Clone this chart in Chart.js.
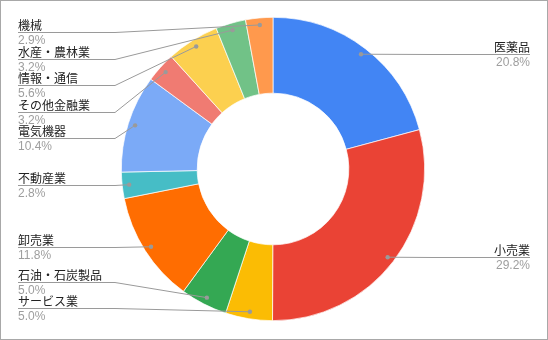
<!DOCTYPE html>
<html>
<head>
<meta charset="utf-8">
<script src="https://cdn.jsdelivr.net/npm/chart.js@4"></script>
<style>
  html, body { margin: 0; padding: 0; background: #fff; }
  #wrap {
    width: 548px; height: 340px; box-sizing: border-box;
    border: 1px solid #a8a8a8; position: relative;
  }
  canvas { display: block; }
</style>
</head>
<body>
<div id="wrap"><canvas id="chart" width="546" height="338"></canvas></div>
<script>
// Sector names and shares, clockwise from 12 o'clock
const sectors = ['医薬品', '小売業', 'サービス業', '石油・石炭製品', '卸売業', '不動産業',
  '電気機器', 'その他金融業', '情報・通信', '水産・農林業', '機械'];
const shares = [20.8, 29.2, 5.0, 5.0, 11.8, 2.8, 10.4, 3.2, 5.6, 3.2, 2.9];
const sliceColors = ['#4285f4', '#ea4335', '#fbbc04', '#34a853', '#ff6d01', '#46bdc6',
  '#7baaf7', '#f07b72', '#fcd04f', '#71c287', '#ff994d'];

const FONT = "Arial, 'Liberation Sans', 'Noto Sans CJK JP', sans-serif";

/**
 * Outside labels with leader lines (spread vertically to avoid overlap)
 */
const outsideLabels = {
  id: 'outsideLabels',
  afterDraw(chart) {
    const ctx = chart.ctx;
    const meta = chart.getDatasetMeta(0);
    const data = chart.data.datasets[0].data;
    const total = data.reduce((a, b) => a + b, 0);
    const gap = 26.5, minY = 31, maxY = 307;
    const left = [], right = [];

    meta.data.forEach((arc, i) => {
      const mid = (arc.startAngle + arc.endAngle) / 2;
      const r = arc.outerRadius - 7;
      const ax = arc.x + Math.cos(mid) * r;
      const ay = arc.y + Math.sin(mid) * r;
      const item = { i, ax, ay, y: ay };
      (ax < arc.x ? left : right).push(item);
    });

    [left, right].forEach(side => {
      side.sort((a, b) => a.ay - b.ay);
      let prev = minY - gap;
      side.forEach(it => { it.y = Math.max(it.y, prev + gap); prev = it.y; });
      let next = maxY + gap;
      for (let k = side.length - 1; k >= 0; k--) {
        side[k].y = Math.min(side[k].y, next - gap);
        next = side[k].y;
      }
    });

    ctx.save();
    const draw = (it, isLeft) => {
      const textX = isLeft ? 17 : 529;
      const bendX = isLeft ? 114 : 432;
      const y = Math.round(it.y) + 0.5;
      ctx.strokeStyle = '#9a9a9a';
      ctx.lineWidth = 1;
      ctx.beginPath();
      ctx.moveTo(textX, y);
      ctx.lineTo(bendX, y);
      ctx.lineTo(it.ax, it.ay);
      ctx.stroke();
      ctx.fillStyle = '#9a9a9a';
      ctx.beginPath();
      ctx.arc(it.ax, it.ay, 2.2, 0, Math.PI * 2);
      ctx.fill();

      ctx.font = '12px ' + FONT;
      ctx.textAlign = isLeft ? 'left' : 'right';
      ctx.textBaseline = 'alphabetic';
      ctx.fillStyle = '#222222';
      ctx.fillText(sectors[it.i], textX, y - 3);
      ctx.fillStyle = '#9e9e9e';
      ctx.textBaseline = 'top';
      const pct = (data[it.i] / total * 100).toFixed(1) + '%';
      ctx.fillText(pct, textX, y + 2);
    };
    left.forEach(it => draw(it, true));
    right.forEach(it => draw(it, false));
    ctx.restore();
  }
};

new Chart(document.getElementById('chart'), {
  type: 'doughnut',
  data: {
    labels: sectors,
    datasets: [{
      data: shares,
      backgroundColor: sliceColors,
      borderColor: '#ffffff',
      borderWidth: 0.7,
    }],
  },
  options: {
    responsive: false,
    animation: false,
    cutout: '50%',
    layout: { padding: { top: 16, bottom: 18, left: 120, right: 122 } },
    plugins: {
      legend: { display: false },
      tooltip: { enabled: false },
    },
  },
  plugins: [outsideLabels],
});
</script>
</body>
</html>
